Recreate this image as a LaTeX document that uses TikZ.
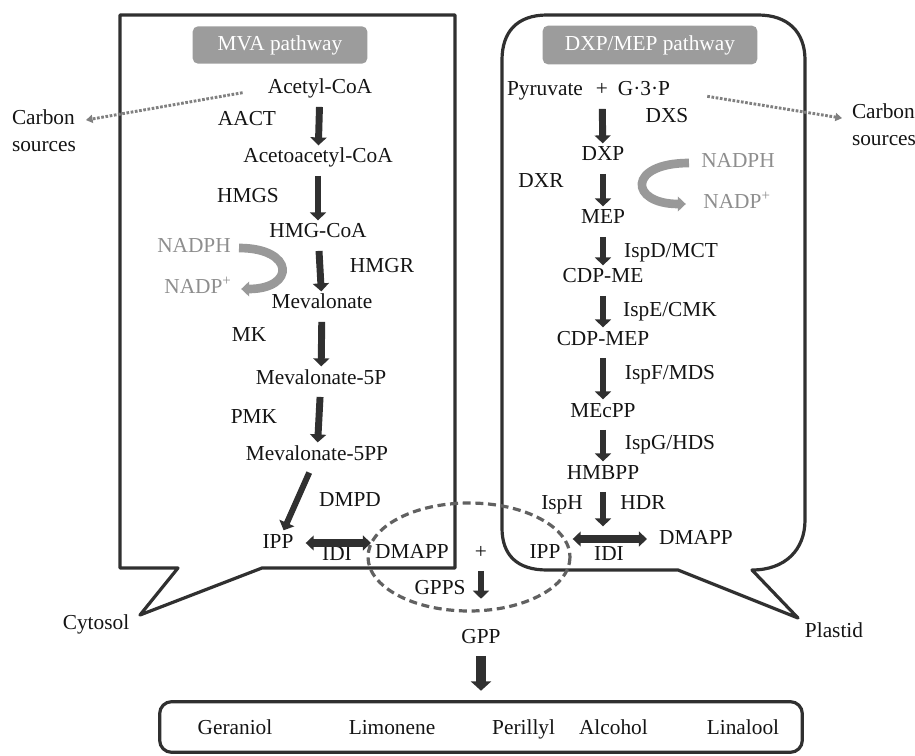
\documentclass[tikz,border=0pt]{standalone}
\usepackage{fontspec}
\setmainfont{LiberationSerif}[Extension=.ttf,UprightFont=*-Regular,BoldFont=*-Bold,ItalicFont=*-Italic]
\usetikzlibrary{arrows.meta}
\definecolor{boxgray}{HTML}{303030}
\definecolor{headgray}{HTML}{9C9C9C}
\definecolor{nadgray}{HTML}{8E8E8E}
\definecolor{dotgray}{HTML}{808080}
\begin{document}
\begin{tikzpicture}[x=0.75pt,y=-0.75pt,
    every node/.style={font=\rmfamily\fontsize{16}{20}\selectfont,text=black!92},
    met/.style={inner sep=3pt,text height=11pt,text depth=3.5pt},
    flux/.style={line width=5.2pt,draw=boxgray,-{Triangle[width=12pt,length=6pt]},shorten <=3pt,shorten >=-1pt},
    interconv/.style={line width=6pt,draw=boxgray,{Triangle[width=11pt,length=6pt]}-{Triangle[width=11pt,length=6pt]},shorten <=6pt},
    cofactor/.style={line width=6.5pt,draw=nadgray!90,-{Triangle[width=11pt,length=6pt]}},
    feed/.style={line width=2.2pt,draw=dotgray,dash pattern=on 2pt off 1.2pt,-{Triangle[width=6pt,length=5pt]}},
    header/.style={fill=headgray,rounded corners=4pt,text=white},
    wall/.style={line width=2.4pt,draw=boxgray,line join=round}]
                    \useasboundingbox (0,0) rectangle (915,756);
                    \draw[wall] (120,15) -- (455,15) -- (455,568) -- (262,568) -- (140,615) -- (178,568) -- (120,568) -- cycle;
                    \draw[wall] (752,570) .. controls (785,570) and (805,550) .. (805,520) -- (805,60) .. controls (805,32) and (788,15) .. (758,15) -- (547,15) .. controls (517,15) and (502,32) .. (502,60) -- (502,528) .. controls (502,555) and (517,570) .. (547,570) -- (678,570) -- (798,618) -- cycle;
                    \draw[line width=2.4pt,draw=black!62,dash pattern=on 6pt off 3.5pt] (469,557) ellipse [x radius=101, y radius=54];
                    \node[header,minimum width=131pt,minimum height=28pt] (mvahead) at (280,45) {MVA pathway};
                    \node[header,minimum width=161pt,minimum height=29pt] (mephead) at (650,45) {DXP/MEP pathway};
                    \node[met] (acetyl) at (320,89) {Acetyl-CoA};
                    \node[met] (acetoacetyl) at (318,158) {Acetoacetyl-CoA};
                    \node[met] (hmgcoa) at (318,233) {HMG-CoA};
                    \node[met] (mevalonate) at (322,304) {Mevalonate};
                    \node[met] (mev5p) at (321,379) {Mevalonate-5P};
                    \node[met] (mev5pp) at (317,455) {Mevalonate-5PP};
                    \node[met] (ippl) at (278,543) {IPP};
                    \node[met] (dmappl) at (412,553) {DMAPP};
                    \node[met] at (247,121) {AACT};
                    \node[met] at (248,198) {HMGS};
                    \node[met] at (382,268) {HMGR};
                    \node[met] at (249,336) {MK};
                    \node[met] at (254,418) {PMK};
                    \node[met] at (350,501) {DMPD};
                    \node[met] at (337,555) {IDI};
                    \node[met,text=nadgray] (nadphl) at (194,248) {NADPH};
                    \node[met,text=nadgray] (nadpl) at (198,289) {NADP\textsuperscript{+}};
                    \node[met] (pyruvate) at (545,91) {Pyruvate};
                    \node[met] (plusr) at (602,91) {+};
                    \node[met] (g3p) at (644,91) {G·3·P};
                    \node[met] (dxp) at (603,156) {DXP};
                    \node[met] (mep) at (603,219) {MEP};
                    \node[met] (cdpme) at (603,278) {CDP-ME};
                    \node[met] (cdpmep) at (603,340) {CDP-MEP};
                    \node[met] (mecpp) at (603,412) {MEcPP};
                    \node[met] (hmbpp) at (603,474) {HMBPP};
                    \node[met] (ippr) at (545,553) {IPP};
                    \node[met] (dmappr) at (696,539) {DMAPP};
                    \node[met] at (667,118) {DXS};
                    \node[met] at (541,183) {DXR};
                    \node[met] at (671,253) {IspD/MCT};
                    \node[met] at (670,311) {IspE/CMK};
                    \node[met] at (670,374) {IspF/MDS};
                    \node[met] at (670,444) {IspG/HDS};
                    \node[met] at (562,504) {IspH};
                    \node[met] at (643,504) {HDR};
                    \node[met] at (609,555) {IDI};
                    \node[met,text=nadgray] (nadphr) at (738,163) {NADPH};
                    \node[met,text=nadgray] (nadpr) at (737,204) {NADP\textsuperscript{+}};
                    \node[met] (plusc) at (481,553) {+};
                    \node[met] at (440,589) {GPPS};
                    \node[met] (gpp) at (481,638) {GPP};
                    \node[align=left] (carbonl) at (44,131) {Carbon\\sources};
                    \node[align=left] (carbonr) at (884,125) {Carbon\\sources};
                    \node[met] (cytosol) at (96,624) {Cytosol};
                    \node[met] (plastid) at (834,632) {Plastid};
                    \node[draw=boxgray,line width=2.4pt,rounded corners=9pt,minimum width=482pt,minimum height=38pt] (products) at (481,727) {};
                    \node[met] (geraniol) at (235,729) {Geraniol};
                    \node[met] (limonene) at (392,729) {Limonene};
                    \node[met] (perillyl) at (570,729) {Perillyl\hspace{18pt}Alcohol};
                    \node[met] (linalool) at (743,729) {Linalool};
                    \draw[flux] (acetyl) -- (acetoacetyl);
                    \draw[flux] (acetoacetyl) -- (hmgcoa);
                    \draw[flux] (hmgcoa) -- (mevalonate);
                    \draw[flux] (mevalonate) -- (mev5p);
                    \draw[flux] (mev5p) -- (mev5pp);
                    \draw[flux,line width=4.5pt] (mev5pp) -- (ippl);
                    \draw[interconv] (ippl.east) -- (ippl.east -| dmappl.west);
                    \draw[flux] (plusr) -- (dxp);
                    \draw[flux] (dxp) -- (mep);
                    \draw[flux] (mep) -- (cdpme);
                    \draw[flux] (cdpme) -- (cdpmep);
                    \draw[flux] (cdpmep) -- (mecpp);
                    \draw[flux] (mecpp) -- (hmbpp);
                    \draw[flux] (hmbpp) -- (hmbpp |- dmappr.north);
                    \draw[interconv,shorten >=6pt] (dmappr.west -| ippr.east) -- (dmappr.west);
                    \draw[flux,shorten >=19pt] (plusc) -- (gpp);
                    \draw[flux,line width=7pt,-{Triangle[width=15pt,length=7pt]},shorten >=7pt] (gpp) -- (products);
                    \draw[cofactor,shorten <=3pt,shorten >=4pt] (nadphl.east) .. controls +(60,0) and +(60,0) .. (nadpl.east);
                    \draw[cofactor,shorten <=6pt,shorten >=10pt] (nadphr.west) .. controls +(-70,0) and +(-70,0) .. (nadpr.west);
                    \draw[feed,shorten <=16pt,shorten >=4pt] (acetyl.west) -- ([yshift=7.5pt]carbonl.east);
                    \draw[feed,shorten <=25pt,shorten >=4pt] (g3p.east) -- ([yshift=4.5pt]carbonr.west);
\end{tikzpicture}
\end{document}
